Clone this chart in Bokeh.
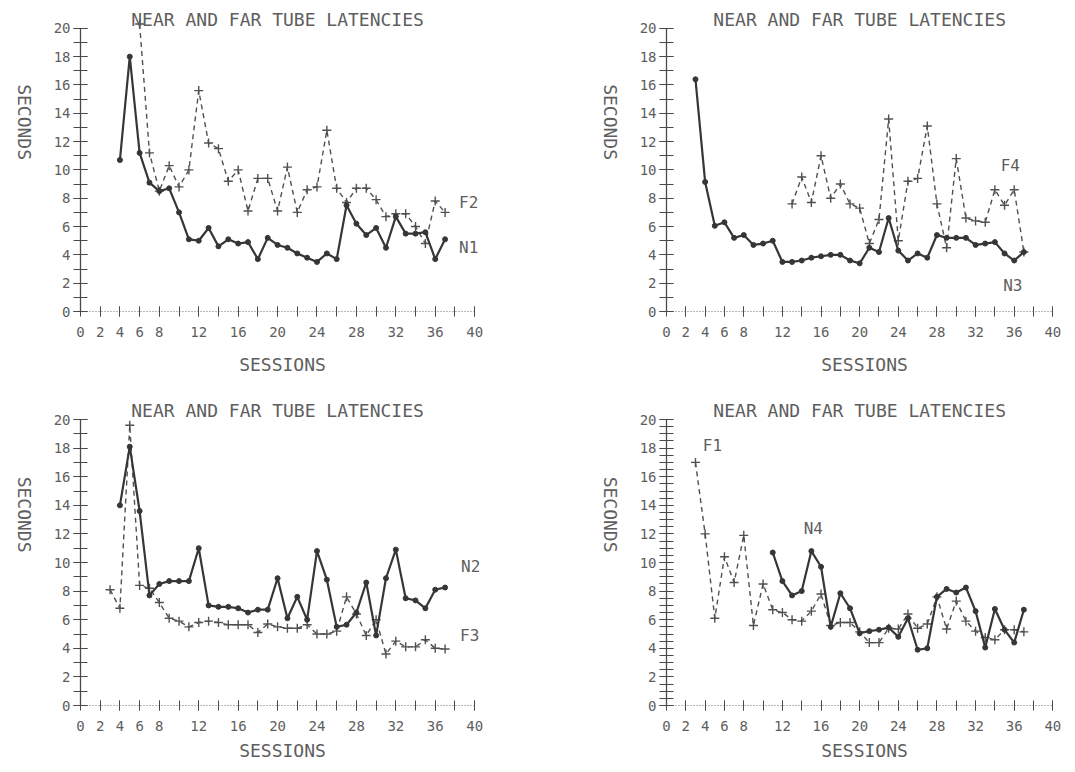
import math
from bokeh.plotting import figure
from bokeh.layouts import column, row
from bokeh.models import FixedTicker, Range1d, Label
from bokeh.embed import file_html
from bokeh.resources import INLINE

# ---------------- data ----------------
TITLE = "NEAR AND FAR TUBE LATENCIES"
X_TICKS = [0, 2, 4, 6, 8, 12, 16, 20, 24, 28, 32, 36, 40]
X_MINOR = list(range(2, 41, 2))
Y_TICKS = list(range(0, 21, 2))
X_LABEL = "SESSIONS"
Y_LABEL = "SECONDS"

# Panel 1 (top left)
n1_sessions = list(range(4, 38))
n1_values = [10.7, 18.0, 11.2, 9.1, 8.5, 8.7, 7.0, 5.1, 5.0, 5.9, 4.6, 5.1, 4.8, 4.9,
             3.7, 5.2, 4.7, 4.5, 4.1, 3.8, 3.5, 4.1, 3.7, 7.5, 6.2, 5.4, 5.9, 4.5,
             6.7, 5.5, 5.5, 5.6, 3.7, 5.1]
f2_sessions = list(range(6, 38))
f2_values = [20.3, 11.2, 8.5, 10.3, 8.8, 10.0, 15.6, 11.9, 11.5, 9.2, 10.0, 7.1, 9.4,
             9.4, 7.1, 10.2, 7.0, 8.6, 8.8, 12.8, 8.7, 7.7, 8.7, 8.7, 7.9, 6.7, 6.9,
             6.9, 6.0, 4.8, 7.8, 7.0]

# Panel 2 (top right)
n3_sessions = list(range(3, 38))
n3_values = [16.4, 9.15, 6.05, 6.3, 5.2, 5.4, 4.7, 4.8, 5.0, 3.5, 3.5, 3.6, 3.8, 3.9,
             4.0, 4.0, 3.6, 3.4, 4.5, 4.2, 6.6, 4.3, 3.6, 4.1, 3.8, 5.4, 5.2, 5.2,
             5.2, 4.7, 4.8, 4.9, 4.1, 3.6, 4.2]
f4_sessions = list(range(13, 38))
f4_values = [7.6, 9.5, 7.7, 11.0, 8.0, 9.0, 7.6, 7.3, 4.8, 6.5, 13.6, 5.0, 9.2, 9.4,
             13.1, 7.6, 4.5, 10.8, 6.6, 6.4, 6.3, 8.6, 7.5, 8.6, 4.2]

# Panel 3 (bottom left)
n2_sessions = list(range(4, 38))
n2_values = [14.0, 18.1, 13.6, 7.7, 8.5, 8.7, 8.7, 8.7, 11.0, 7.0, 6.9, 6.9, 6.8, 6.5,
             6.7, 6.7, 8.9, 6.1, 7.6, 6.0, 10.8, 8.8, 5.5, 5.65, 6.5, 8.6, 4.9, 8.9,
             10.9, 7.5, 7.35, 6.8, 8.1, 8.25]
f3_sessions = list(range(3, 38))
f3_values = [8.1, 6.8, 19.6, 8.4, 8.2, 7.2, 6.1, 5.9, 5.5, 5.8, 5.9, 5.8, 5.65, 5.65,
             5.65, 5.1, 5.7, 5.5, 5.4, 5.4, 5.65, 5.0, 5.0, 5.2, 7.6, 6.4, 4.9, 6.0,
             3.6, 4.5, 4.1, 4.1, 4.6, 4.0, 3.95]

# Panel 4 (bottom right)
n4_sessions = list(range(11, 38))
n4_values = [10.7, 8.7, 7.7, 8.0, 10.8, 9.7, 5.5, 7.85, 6.8, 5.05, 5.2, 5.3, 5.45, 4.8,
             6.1, 3.9, 4.0, 7.6, 8.15, 7.9, 8.25, 6.6, 4.05, 6.75, 5.3, 4.4, 6.7]
f1_sessions = list(range(3, 38))
f1_values = [17.0, 12.0, 6.1, 10.4, 8.6, 11.9, 5.6, 8.5, 6.7, 6.5, 6.0, 5.9, 6.6, 7.8,
             5.6, 5.8, 5.8, 5.15, 4.4, 4.4, 5.4, 5.35, 6.4, 5.4, 5.7, 7.6, 5.35, 7.3,
             5.9, 5.2, 4.75, 4.6, 5.3, 5.3, 5.15]

# series labels: (text, session, seconds)
labels_1 = [("F2", 39.4, 7.7), ("N1", 39.4, 4.5)]
labels_2 = [("F4", 35.6, 10.3), ("N3", 35.85, 1.85)]
labels_3 = [("N2", 39.6, 9.7), ("F3", 39.5, 4.9)]
labels_4 = [("F1", 4.75, 18.2), ("N4", 15.2, 12.4)]

# ---------------- style ----------------
FONT = "DejaVu Sans Mono"
TEXT = "#5e5e5e"
NEAR = "#363636"
FAR = "#505050"
AXIS = "#4a4a4a"


def panel(near_s, near_v, far_s, far_v, labels, frame_w, frame_h,
          border_top, border_right, border_bottom, xlabel_standoff, y_minor_step):
    p = figure(frame_width=frame_w, frame_height=frame_h,
               x_range=Range1d(0, 41), y_range=Range1d(0, 21.4),
               output_backend="svg", toolbar_location=None,
               min_border_left=74, min_border_right=border_right,
               min_border_top=border_top, min_border_bottom=border_bottom,
               outline_line_color=None, background_fill_color="white",
               border_fill_color="white")
    p.xgrid.visible = False
    p.ygrid.visible = False

    xa = p.xaxis[0]
    xa.ticker = FixedTicker(ticks=X_TICKS, minor_ticks=X_MINOR)
    xa.bounds = (0, 40)
    xa.axis_line_color = "#707070"
    xa.axis_line_dash = "1 2"
    xa.axis_line_width = 1
    xa.major_tick_in = 5
    xa.major_tick_out = 5
    xa.minor_tick_in = 5
    xa.minor_tick_out = 5
    xa.major_tick_line_color = AXIS
    xa.minor_tick_line_color = AXIS
    xa.major_label_standoff = 10
    xa.major_label_text_font = FONT
    xa.major_label_text_font_size = "14px"
    xa.major_label_text_color = TEXT
    xa.axis_label = X_LABEL
    xa.axis_label_text_font = FONT
    xa.axis_label_text_font_size = "18px"
    xa.axis_label_text_font_style = "normal"
    xa.axis_label_text_color = TEXT
    xa.axis_label_standoff = xlabel_standoff

    ya = p.yaxis[0]
    minor = [i * y_minor_step for i in range(int(round(20 / y_minor_step)) + 1)]
    ya.ticker = FixedTicker(ticks=Y_TICKS, minor_ticks=minor)
    ya.bounds = (0, 20)
    ya.axis_line_color = AXIS
    ya.axis_line_width = 1.3
    ya.major_tick_in = 7
    ya.major_tick_out = 7
    ya.minor_tick_in = 7
    ya.minor_tick_out = 7
    ya.major_tick_line_color = AXIS
    ya.minor_tick_line_color = AXIS
    ya.major_tick_line_width = 1.2
    ya.minor_tick_line_width = 1.2
    ya.major_label_standoff = 3
    ya.major_label_text_font = FONT
    ya.major_label_text_font_size = "14px"
    ya.major_label_text_color = TEXT
    ya.axis_label = Y_LABEL
    ya.axis_label_text_font = FONT
    ya.axis_label_text_font_size = "18px"
    ya.axis_label_text_font_style = "normal"
    ya.axis_label_text_color = TEXT
    ya.axis_label_standoff = 26
    if "axis_label_orientation" in ya.properties():
        ya.axis_label_orientation = -math.pi / 2

    p.line(far_s, far_v, line_color=FAR, line_width=1.4, line_dash="5 4")
    p.scatter(far_s, far_v, marker="cross", size=9, line_color=FAR, line_width=1.4)
    p.line(near_s, near_v, line_color=NEAR, line_width=2.2)
    p.scatter(near_s, near_v, marker="circle", size=5, fill_color=NEAR, line_color=NEAR)

    p.add_layout(Label(x=20, y=20.6, text=TITLE, text_align="center", text_baseline="middle",
                       text_font=FONT, text_font_size="18px", text_color=TEXT))
    for t, sx, sy in labels:
        p.add_layout(Label(x=sx, y=sy, text=t, text_align="center", text_baseline="middle",
                           text_font=FONT, text_font_size="16px", text_color=TEXT))
    return p


p1 = panel(n1_sessions, n1_values, f2_sessions, f2_values, labels_1, 404, 303, 8, 102, 88, 14, 1)
p2 = panel(n3_sessions, n3_values, f4_sessions, f4_values, labels_2, 396, 303, 8, 5, 88, 14, 1)
p3 = panel(n2_sessions, n2_values, f3_sessions, f3_values, labels_3, 404, 306, 0, 102, 59, 6, 1)
p4 = panel(n4_sessions, n4_values, f1_sessions, f1_values, labels_4, 396, 306, 0, 5, 59, 6, 0.5)

layout = column(row(p1, p2, spacing=0), row(p3, p4, spacing=0), spacing=0)

open("out.html", "w").write(file_html(layout, INLINE))
